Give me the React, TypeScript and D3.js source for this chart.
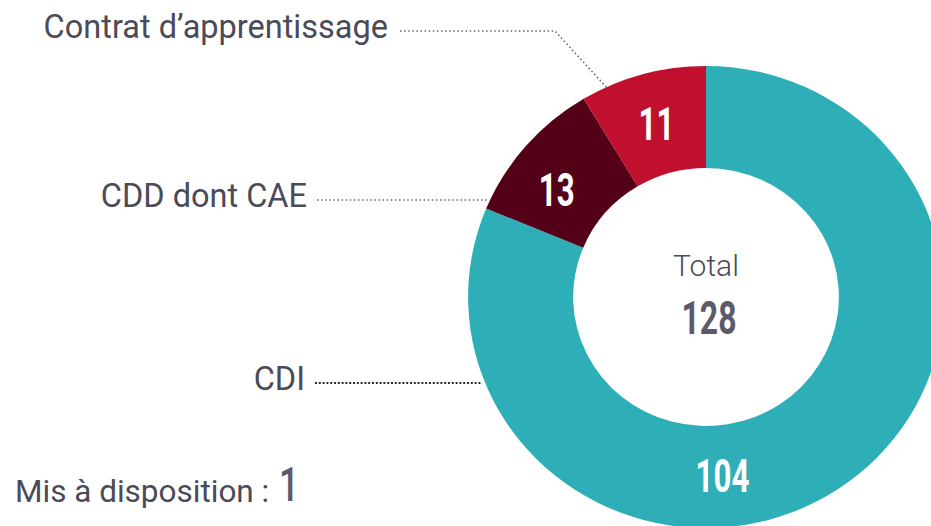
import React, { useMemo } from "react";
import * as d3 from "d3";

const categories = ["CDI", "CDD dont CAE", "Contrat d’apprentissage"];
const values = [104, 13, 11];
const colors = ["#2eafb8", "#540016", "#c0102e"];
const totalLabel = "Total";
const extraLabel = "Mis à disposition :";
const extraValue = 1;

const W = 931;
const H = 526;
const cx = 706;
const cy = 297;
const rOuter = 231;
const rInner = 129;
const sx = 1.03;

const labelFont = "Roboto, 'Noto Sans', sans-serif";
const textColor = "#4a4a58";
const numColor = "#5c596c";

const App = () => {
  const arcs = useMemo(() => {
    const pie = d3.pie<number>().sort(null).value((d) => d);
    return pie(values);
  }, []);

  const arc = d3.arc<d3.PieArcDatum<number>>().innerRadius(rInner).outerRadius(rOuter);
  const total = d3.sum(values);

  // point on the ring at a given fraction inside a slice
  const ringPoint = (i: number, t: number, r: number) => {
    const a = arcs[i].startAngle + (arcs[i].endAngle - arcs[i].startAngle) * t;
    const [px, py] = d3.pointRadial(a, r);
    return [cx + px * sx, cy + py];
  };

  // where each value label goes inside its slice (fraction of the slice angle)
  const labelT = [0.598, 0.38, 0.5];
  const midR = (rInner + rOuter) / 2;

  // label anchors (text end) and leader lines
  const labels = [
    { i: 0, x: 305, y: 390, t: 0.855, dark: true },
    { i: 1, x: 307, y: 207, t: 0.05, dark: false },
    { i: 2, x: 388, y: 38, t: 0.2, dark: false },
  ];

  return (
    <svg width={W} height={H} style={{ position: "absolute", left: 0, top: 0, background: "#fff" }}>
      <g transform={`translate(${cx},${cy}) scale(${sx},1)`}>
        {arcs.map((a, i) => (
          <path key={i} d={arc(a) || ""} fill={colors[i]} />
        ))}
      </g>

      {arcs.map((a, i) => {
        const [x, y] = ringPoint(i, labelT[i], midR);
        return (
          <text
            key={i}
            transform={`translate(${x},${y + 16}) scale(0.68,1)`}
            textAnchor="middle"
            fontFamily={labelFont}
            fontWeight={700}
            fontSize={46}
            fill="#fff"
          >
            {values[i]}
          </text>
        );
      })}

      {labels.map((l) => {
        const [ex, ey] = ringPoint(l.i, l.t, rOuter);
        const ly = l.y - 7;
        const pts =
          l.i === 2
            ? [
                [l.x + 12, ly],
                [555, ly],
                [ex, ey],
              ]
            : [
                [l.x + 10, ly],
                [ex, ly],
              ];
        return (
          <g key={l.i}>
            <text x={l.x} y={l.y} textAnchor="end" fontFamily={labelFont} fontSize={32.5} fill={textColor}>
              {categories[l.i]}
            </text>
            <path
              d={d3.line()(pts as [number, number][]) || ""}
              fill="none"
              stroke={l.dark ? "#2a2a35" : "#666"}
              strokeWidth={l.dark ? 2.2 : 1.6}
              strokeDasharray={l.dark ? "2 1.8" : "1.5 2.6"}
            />
          </g>
        );
      })}

      <text x={cx} y={276} textAnchor="middle" fontFamily={labelFont} fontWeight={300} fontSize={30} fill={textColor}>
        {totalLabel}
      </text>
      <text
        transform={`translate(${cx + 3},334) scale(0.68,1)`}
        textAnchor="middle"
        fontFamily={labelFont}
        fontWeight={700}
        fontSize={47}
        fill={numColor}
      >
        {total}
      </text>

      <text x={15} y={502} fontFamily={labelFont} fontSize={31.5} fill={textColor}>
        {extraLabel}
      </text>
      <text
        transform="translate(289,501) scale(0.72,1)"
        textAnchor="middle"
        fontFamily={labelFont}
        fontWeight={500}
        fontSize={49}
        fill={numColor}
      >
        {extraValue}
      </text>
    </svg>
  );
};

export default App;
